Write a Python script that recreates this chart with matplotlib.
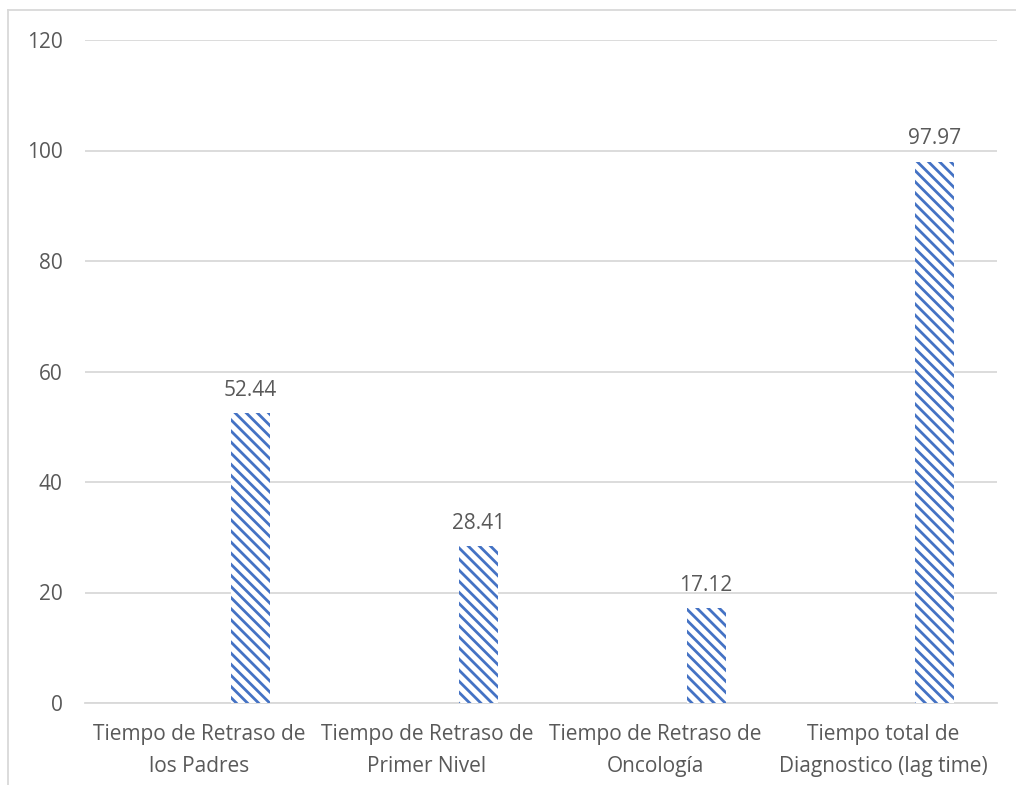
import numpy as np
import matplotlib
import matplotlib.pyplot as plt
from matplotlib.lines import Line2D

matplotlib.rcParams['font.family'] = ['Open Sans', 'DejaVu Sans']
matplotlib.rcParams['hatch.linewidth'] = 2.0

categorias = ["Tiempo de Retraso de\nlos Padres",
              "Tiempo de Retraso de\nPrimer Nivel",
              "Tiempo de Retraso de\nOncología",
              "Tiempo total de\nDiagnostico (lag time)"]
dias = [52.44, 28.41, 17.12, 97.97]
yticks = [0, 20, 40, 60, 80, 100, 120]

azul = '#4472C4'
gris_texto = '#595959'
gris_linea = '#D9D9D9'

fig = plt.figure(figsize=(10.16, 7.85), dpi=100)
ax = fig.add_axes([85/1016, 1-703/785, 912/1016, 663/785])

x = np.arange(len(categorias))
bars = ax.bar(x + 0.224, dias, width=0.171, facecolor='white',
              edgecolor=azul, linewidth=0, hatch='\\\\\\', zorder=3)

for b, v in zip(bars, dias):
    ax.annotate(f"{v:.2f}", (b.get_x() + b.get_width()/2, v),
                xytext=(0, 9), textcoords='offset points',
                ha='center', va='bottom', fontsize=15, color=gris_texto)

ax.set_xlim(-0.5, len(categorias) - 0.5)
ax.set_ylim(0, 120)
ax.set_yticks(yticks)
ax.set_xticks(x)
ax.set_xticklabels(categorias, fontsize=15, color=gris_texto, linespacing=1.7)
ax.tick_params(axis='y', labelsize=15, labelcolor=gris_texto, length=0, pad=16)
ax.tick_params(axis='x', length=0, pad=15)

ax.grid(axis='y', color=gris_linea, linewidth=1.3, zorder=0)
for s in ['top', 'right', 'left']:
    ax.spines[s].set_visible(False)
ax.spines['bottom'].set_color(gris_linea)
ax.spines['bottom'].set_linewidth(1.3)

# marco del gráfico (recortado a la derecha y abajo)
fig.add_artist(Line2D([8/1016, 1], [1-10/785, 1-10/785], color=gris_linea, lw=1.3))
fig.add_artist(Line2D([8/1016, 8/1016], [0, 1-10/785], color=gris_linea, lw=1.3))

fig.savefig('out.png', dpi=100)
